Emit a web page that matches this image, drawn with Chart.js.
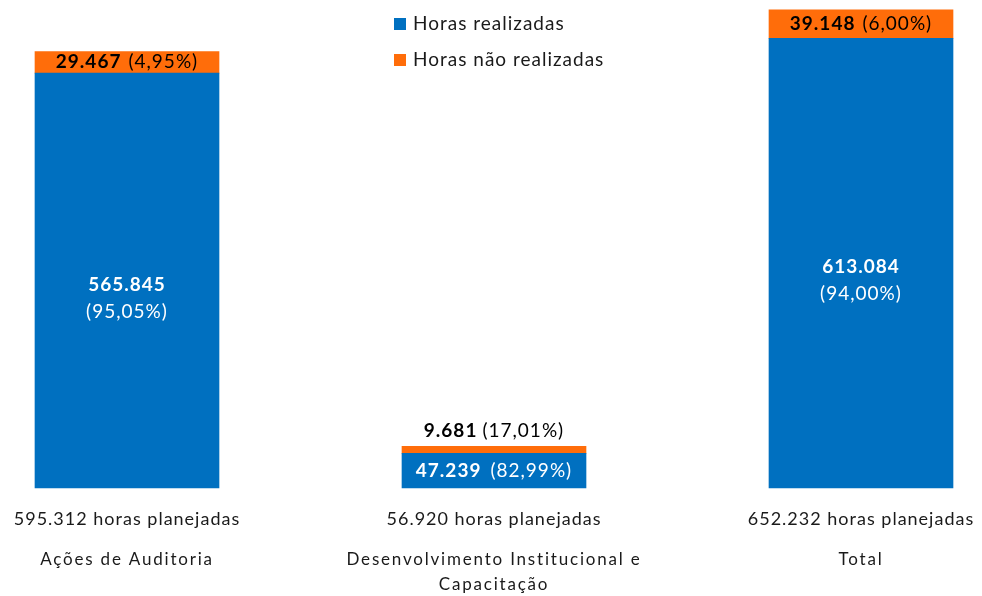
<!DOCTYPE html>
<html>
<head>
<meta charset="utf-8">
<script src="https://cdn.jsdelivr.net/npm/chart.js@4.4.1/dist/chart.umd.min.js"></script>
<style>
  html, body { margin: 0; padding: 0; background: #fff; }
  #wrap { width: 982px; height: 596px; position: relative; }
</style>
</head>
<body>
<div id="wrap"><canvas id="horasChart"></canvas></div>
<script>
// dados
var categorias = [['Ações de Auditoria'], ['Desenvolvimento Institucional e', 'Capacitação'], ['Total']];
var horasRealizadas = [565845, 47239, 613084];
var horasNaoRealizadas = [29467, 9681, 39148];
var horasPlanejadas = [595312, 56920, 652232];
var pctRealizadas = ['95,05%', '82,99%', '94,00%'];
var pctNaoRealizadas = ['4,95%', '17,01%', '6,00%'];
var legendaNomes = ['Horas realizadas', 'Horas não realizadas'];

var azul = '#0070c0';
var laranja = '#ff6d0a';
var fonte = 'Lato, "Noto Sans", sans-serif';

function fmt(n) {
    return String(n).replace(/\B(?=(\d{3})+(?!\d))/g, '.');
}

// escreve texto com parte em negrito + parte normal, centralizado
function duasPartes(ctx, bold, normal, cx, cy, size, cor, gap) {
    ctx.letterSpacing = '1px';
    ctx.font = 'bold ' + size + 'px ' + fonte;
    var w1 = ctx.measureText(bold).width;
    ctx.font = size + 'px ' + fonte;
    var w2 = ctx.measureText(normal).width;
    var x0 = cx - (w1 + gap + w2) / 2;
    ctx.fillStyle = cor;
    ctx.textAlign = 'left';
    ctx.textBaseline = 'middle';
    ctx.font = 'bold ' + size + 'px ' + fonte;
    ctx.fillText(bold, x0, cy);
    ctx.font = size + 'px ' + fonte;
    ctx.fillText(normal, x0 + w1 + gap, cy);
    ctx.letterSpacing = '0px';
}

var rotulosPlugin = {
    id: 'rotulos',
    afterDatasetsDraw: function(chart) {
        var ctx = chart.ctx;
        var area = chart.chartArea;
        var metaA = chart.getDatasetMeta(0);
        var metaB = chart.getDatasetMeta(1);
        ctx.save();
        for (var i = 0; i < horasRealizadas.length; i++) {
            var a = metaA.data[i];
            var b = metaB.data[i];
            var hA = a.base - a.y;
            // azul
            if (hA > 60) {
                var cy = (a.y + a.base) / 2;
                ctx.fillStyle = '#fff';
                ctx.textAlign = 'center';
                ctx.textBaseline = 'middle';
                ctx.letterSpacing = '1px';
                ctx.font = 'bold 19px ' + fonte;
                ctx.fillText(fmt(horasRealizadas[i]), a.x, cy + 4);
                ctx.font = '19px ' + fonte;
                ctx.fillText('(' + pctRealizadas[i] + ')', a.x, cy + 31);
                ctx.letterSpacing = '0px';
            } else {
                duasPartes(ctx, fmt(horasRealizadas[i]), '(' + pctRealizadas[i] + ')', a.x, (a.y + a.base) / 2, 19, '#fff', 9);
            }
            // laranja
            var hB = b.base - b.y;
            if (hB > 15) {
                duasPartes(ctx, fmt(horasNaoRealizadas[i]), '(' + pctNaoRealizadas[i] + ')', b.x, (b.y + b.base) / 2, 19, '#000', 7);
            } else {
                duasPartes(ctx, fmt(horasNaoRealizadas[i]), '(' + pctNaoRealizadas[i] + ')', b.x, b.y - 15, 19, '#000', 5);
            }
            // rotulos inferiores
            ctx.fillStyle = '#1a1a1a';
            ctx.textAlign = 'center';
            ctx.textBaseline = 'middle';
            ctx.letterSpacing = '1px';
            ctx.font = '18px ' + fonte;
            ctx.fillText(fmt(horasPlanejadas[i]) + ' horas planejadas', a.x, area.bottom + 31);
            ctx.font = '17px ' + fonte;
            ctx.letterSpacing = '1.8px';
            for (var k = 0; k < categorias[i].length; k++) {
                ctx.fillText(categorias[i][k], a.x, area.bottom + 72 + k * 25);
            }
            ctx.letterSpacing = '0px';
        }
        // legenda
        var cores = [azul, laranja];
        for (var j = 0; j < legendaNomes.length; j++) {
            var ly = 24 + j * 36;
            ctx.fillStyle = cores[j];
            ctx.fillRect(394, ly - 6, 12, 12);
            ctx.fillStyle = '#1a1a1a';
            ctx.textAlign = 'left';
            ctx.textBaseline = 'middle';
            ctx.letterSpacing = '1px';
            ctx.font = '19px ' + fonte;
            ctx.fillText(legendaNomes[j], 413, ly);
            ctx.letterSpacing = '0px';
        }
        ctx.restore();
    }
};

var dados = {
    labels: categorias,
    datasets: [
        { label: legendaNomes[0], data: horasRealizadas, backgroundColor: azul, barThickness: 184, clip: false },
        { label: legendaNomes[1], data: horasNaoRealizadas, backgroundColor: laranja, barThickness: 184, clip: false }
    ]
};

new Chart(document.getElementById('horasChart'), {
    type: 'bar',
    data: dados,
    options: {
        responsive: true,
        maintainAspectRatio: false,
        animation: false,
        layout: { padding: { top: 0, bottom: 108, left: 127, right: 121 } },
        plugins: { legend: { display: false }, tooltip: { enabled: false } },
        scales: {
            x: { stacked: true, display: false, offset: false },
            y: { stacked: true, display: false, min: 0, max: 665500 }
        }
    },
    plugins: [rotulosPlugin]
});
</script>
</body>
</html>
